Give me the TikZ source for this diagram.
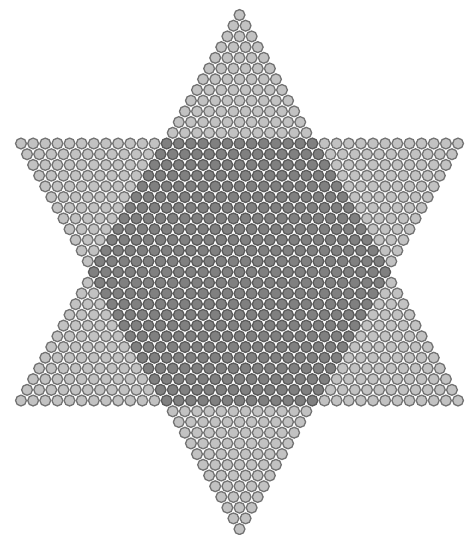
\documentclass[tikz,border=0pt]{standalone}
\definecolor{lightfill}{RGB}{194,194,194}
\definecolor{lightline}{RGB}{115,115,115}
\definecolor{darkfill}{RGB}{128,128,128}
\definecolor{darkline}{RGB}{90,90,90}
\tikzset{
  lightball/.style={fill=lightfill, draw=lightline, line width=1.3pt},
  darkball/.style={fill=darkfill, draw=darkline, line width=1.3pt},
}
\begin{document}
\begin{tikzpicture}[x=1pt,y=-1pt]
\useasboundingbox (0,0) rectangle (465,535);
\def\cx{239.5}
\def\sx{12.14}
\def\sy{10.71}
\def\rad{5.4}
\foreach \r in {0,...,48}{
  \pgfmathtruncatemacro{\U}{\r<12 ? \r : (\r>36 ? 48-\r : max(\r,48-\r))}
  \pgfmathtruncatemacro{\I}{(\r<12 || \r>36) ? -1 : min(\r,48-\r)}
  \foreach \j in {0,...,\U}{
    \pgfmathtruncatemacro{\q}{-\U+2*\j}
    \pgfmathtruncatemacro{\dk}{abs(\q)<=\I ? 1 : 0}
    \ifnum\dk=1
      \path[darkball] (\cx+\q*\sx/2, 15+\r*\sy) circle[radius=\rad];
    \else
      \path[lightball] (\cx+\q*\sx/2, 15+\r*\sy) circle[radius=\rad];
    \fi
  }
}
\end{tikzpicture}
\end{document}
